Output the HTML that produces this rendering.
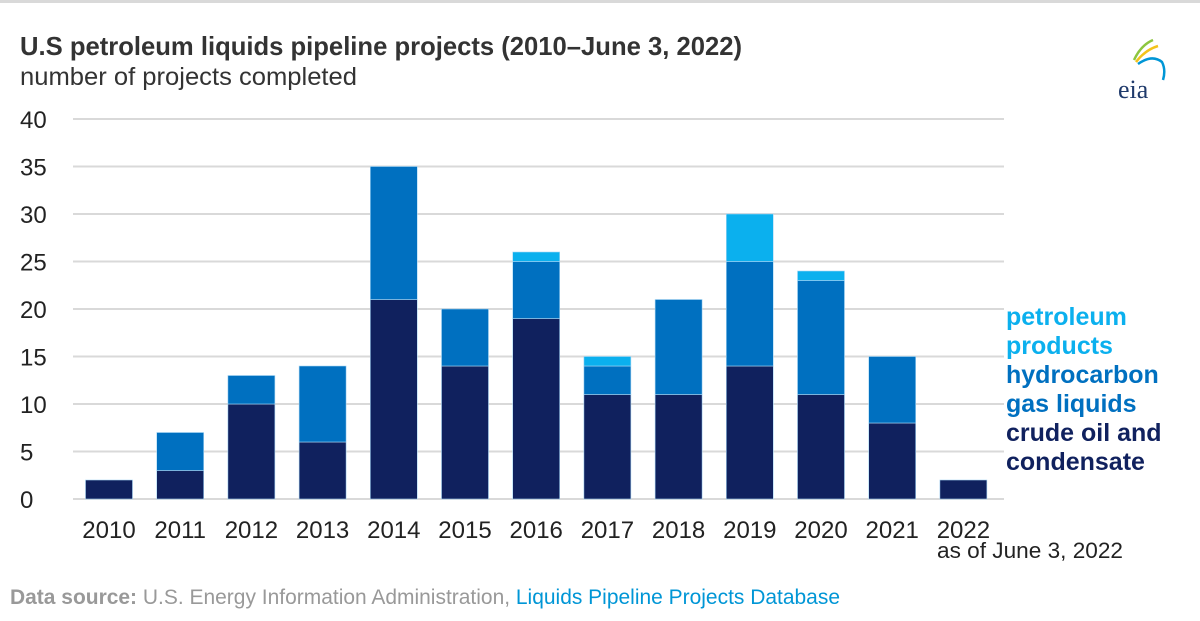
<!DOCTYPE html>
<html><head><meta charset="utf-8"><style>
body{margin:0;background:#fff;width:1200px;height:616px;overflow:hidden;font-family:"Liberation Sans",sans-serif;}
</style></head><body>
<svg width="1200" height="616" viewBox="0 0 1200 616" id="chart">
<rect x="0" y="0" width="1200" height="3" fill="#d9d9d9"/>
<text x="20" y="55" font-size="25.6" font-weight="bold" fill="#333" textLength="722" lengthAdjust="spacingAndGlyphs">U.S petroleum liquids pipeline projects (2010–June 3, 2022)</text>
<text x="20" y="85" font-size="25" fill="#333" textLength="337" lengthAdjust="spacingAndGlyphs">number of projects completed</text>
<g>
<path d="M1134 60 Q1141 45 1153 40" stroke="#8dc63f" stroke-width="2.5" fill="none"/>
<path d="M1136 62 Q1145 50 1158 46" stroke="#f3c31b" stroke-width="2.5" fill="none"/>
<path d="M1138 64 Q1152 54 1162 62 Q1166 70 1163 80" stroke="#0096d6" stroke-width="2.5" fill="none"/>
<text x="1118" y="98" font-size="26" font-family="Liberation Serif,serif" fill="#1f3a6b">eia</text>
</g>
<g id="grid"></g><g id="bars"></g><g id="xlabels"></g>
<text x="937" y="558" font-size="22.5" fill="#222" textLength="186" lengthAdjust="spacingAndGlyphs">as of June 3, 2022</text>
<g font-size="25" font-weight="bold">
<text x="1006" y="325" fill="#0bb0ee"><tspan x="1006">petroleum</tspan><tspan x="1006" dy="29">products</tspan></text>
<text x="1006" y="383" fill="#0070c0"><tspan x="1006">hydrocarbon</tspan><tspan x="1006" dy="29">gas liquids</tspan></text>
<text x="1006" y="441" fill="#10215e"><tspan x="1006">crude oil and</tspan><tspan x="1006" dy="29">condensate</tspan></text>
</g>
<text x="10" y="604" font-size="21" fill="#999" textLength="830" lengthAdjust="spacingAndGlyphs"><tspan font-weight="bold">Data source:</tspan> U.S. Energy Information Administration, <tspan fill="#0096d6">Liquids Pipeline Projects Database</tspan></text>
</svg>
<script>
const years=["2010","2011","2012","2013","2014","2015","2016","2017","2018","2019","2020","2021","2022"];
const crude=[2,3,10,6,21,14,19,11,11,14,11,8,2];
const hgl=[0,4,3,8,14,6,6,3,10,11,12,7,0];
const products=[0,0,0,0,0,0,1,1,0,5,1,0,0];
const yTicks=[0,5,10,15,20,25,30,35,40];
const NS="http://www.w3.org/2000/svg";
const y=v=>499-v*9.5;
const x=i=>109+i*71.2;
const bw=47;
function mk(tag,attrs,parent){const e=document.createElementNS(NS,tag);for(const k in attrs)e.setAttribute(k,attrs[k]);parent.appendChild(e);return e;}
const grid=document.getElementById('grid');
yTicks.forEach(t=>{
  const l=mk('line',{x1:73,x2:1004,y1:y(t),y2:y(t),stroke:'#d9d9d9','stroke-width':2},grid);
  
  
  const tx=mk('text',{x:20,y:y(t)+9,'font-size':24,fill:'#222'},grid);
  tx.textContent=t;
  
  
});
const bars=document.getElementById('bars');
const series=[[crude,'#10215e','crude'],[hgl,'#0070c0','hgl'],[products,'#0bb0ee','products']];
years.forEach((yr,i)=>{
  let base=0;
  series.forEach(([arr,col,nm])=>{
    const v=arr[i];if(!v)return;
    const r=mk('rect',{x:x(i)-bw/2,y:y(base+v),width:bw,height:v*9.5,fill:col,stroke:'#a9d8f5','stroke-width':0.6},bars);
    
    
    base+=v;
  });
  const tx=mk('text',{x:x(i),y:538,'font-size':24,fill:'#222','text-anchor':'middle'},document.getElementById('xlabels'));
  tx.textContent=yr;
  
  
});
</script>
</body></html>
